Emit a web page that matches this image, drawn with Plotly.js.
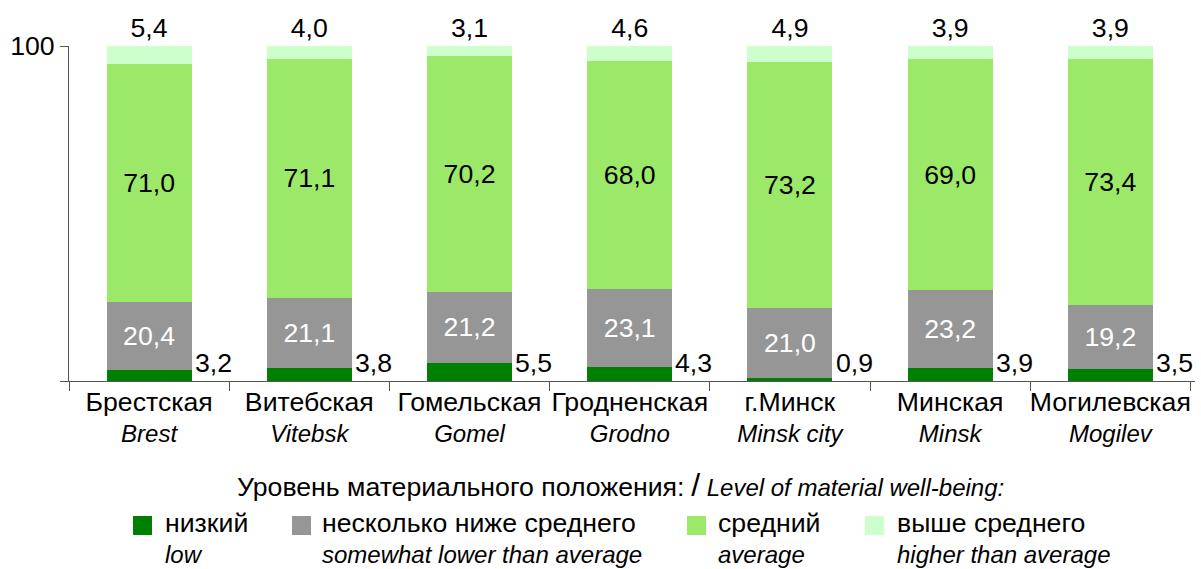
<!DOCTYPE html>
<html>
<head>
<meta charset="utf-8">
<script src="https://cdn.plot.ly/plotly-3.0.1.min.js"></script>
<style>html,body{margin:0;padding:0;background:#fff;}#chart{width:1201px;height:569px;}</style>
</head>
<body>
<div id="chart"></div>
<script>
const categories = ['Брестская','Витебская','Гомельская','Гродненская','г.Минск','Минская','Могилевская'];
const categoriesEn = ['Brest','Vitebsk','Gomel','Grodno','Minsk city','Minsk','Mogilev'];
const low = [3.2, 3.8, 5.5, 4.3, 0.9, 3.9, 3.5];
const belowAvg = [20.4, 21.1, 21.2, 23.1, 21.0, 23.2, 19.2];
const average = [71.0, 71.1, 70.2, 68.0, 73.2, 69.0, 73.4];
const aboveAvg = [5.4, 4.0, 3.1, 4.6, 4.9, 3.9, 3.9];
const yTickVals = [0, 100];
const yTickText = ['', '100'];
const legendTitleRu = 'Уровень материального положения:';
const legendTitleEn = 'Level of material well-being:';
const seriesRu = ['низкий', 'несколько ниже среднего', 'средний', 'выше среднего'];
const seriesEn = ['low', 'somewhat lower than average', 'average', 'higher than average'];

const colors = ['#008000', '#969696', '#9CE96A', '#CCFFCC'];
const FONT = 'Liberation Sans, Arial, sans-serif';
const BIG = 26.67, SMALL = 24;
const fmt = v => v.toFixed(1).replace('.', ',');

// layout geometry (pixels)
const W = 1201, H = 569, L = 69, R = 6, T = 46, B = 188;
const PW = W - L - R, PH = H - T - B;
const YMAX = 100.001;
const px = x => (x - L) / PW;
const py = y => (H - B - y) / PH;
const BARGAP = 0.47;
const halfBar = PW / categories.length * (1 - BARGAP) / 2;

const traces = [
  {type: 'bar', x: categories, y: low, name: seriesRu[0], marker: {color: colors[0]},
   textposition: 'none', hoverinfo: 'none', showlegend: false},
  {type: 'bar', x: categories, y: belowAvg, name: seriesRu[1], marker: {color: colors[1]},
   text: belowAvg.map(fmt), textposition: 'inside', insidetextanchor: 'middle',
   textfont: {family: FONT, size: BIG, color: '#ffffff'}, hoverinfo: 'none', showlegend: false},
  {type: 'bar', x: categories, y: average, name: seriesRu[2], marker: {color: colors[2]},
   text: average.map(fmt), textposition: 'inside', insidetextanchor: 'middle',
   textfont: {family: FONT, size: BIG, color: '#000000'}, hoverinfo: 'none', showlegend: false},
  {type: 'bar', x: categories, y: aboveAvg, name: seriesRu[3], marker: {color: colors[3]},
   text: aboveAvg.map(fmt), textposition: 'outside', cliponaxis: false, constraintext: 'none',
   textfont: {family: FONT, size: BIG, color: '#000000'}, hoverinfo: 'none', showlegend: false}
];

const annotations = [];
categories.forEach((c, i) => {
  annotations.push({
    x: c, y: 0, xref: 'x', yref: 'y', xanchor: 'left', yanchor: 'bottom',
    xshift: halfBar + 1, yshift: 1, showarrow: false, text: fmt(low[i]),
    font: {family: FONT, size: BIG, color: '#000000'}
  });
});
annotations.push({
  x: px(235), y: py(485), xref: 'paper', yref: 'paper', xanchor: 'left', yanchor: 'middle',
  showarrow: false,
  text: '<span style="font-size:' + BIG + 'px">' + legendTitleRu + '</span> <span style="font-size:32px">/</span> <i>' + legendTitleEn + '</i>',
  font: {family: FONT, size: SMALL, color: '#000000'}
});

const legendSquareX = [133, 292, 687, 865];
const legendTextX = [165, 322, 718, 897];
const shapes = [];
seriesRu.forEach((s, i) => {
  shapes.push({type: 'rect', xref: 'paper', yref: 'paper',
    x0: px(legendSquareX[i]), x1: px(legendSquareX[i] + 19), y0: py(535), y1: py(516),
    fillcolor: colors[i], line: {width: 0}});
  annotations.push({
    x: px(legendTextX[i] - 2), y: py(506), xref: 'paper', yref: 'paper', xanchor: 'left', yanchor: 'top',
    align: 'left', showarrow: false,
    text: '<span style="font-size:' + BIG + 'px">' + s + '</span><br><i>' + seriesEn[i] + '</i>',
    font: {family: FONT, size: SMALL, color: '#000000'}
  });
});

const layout = {
  width: W, height: H,
  margin: {l: L, r: R, t: T, b: B, pad: 0},
  paper_bgcolor: '#ffffff', plot_bgcolor: '#ffffff',
  barmode: 'stack', bargap: BARGAP,
  showlegend: false,
  font: {family: FONT, color: '#000000'},
  xaxis: {
    type: 'category', tickvals: categories, tickangle: 0, automargin: false,
    ticktext: categories.map((c, i) => '<span style="font-size:' + BIG + 'px">' + c + '</span><br><i>' + categoriesEn[i] + '</i>'),
    tickfont: {family: FONT, size: SMALL, color: '#000000'},
    showline: true, linecolor: '#555555', linewidth: 1,
    ticks: 'outside', tickson: 'boundaries', ticklen: 9, tickcolor: '#555555', tickwidth: 1,
    showgrid: false, zeroline: false, fixedrange: true
  },
  yaxis: {
    range: [0, YMAX], tickvals: yTickVals, ticktext: yTickText, automargin: false,
    tickfont: {family: FONT, size: BIG, color: '#000000'},
    showline: true, linecolor: '#555555', linewidth: 1,
    ticks: 'outside', ticklen: 8, tickcolor: '#555555', tickwidth: 1,
    showgrid: false, zeroline: false, fixedrange: true
  },
  annotations: annotations,
  shapes: shapes
};

Plotly.newPlot('chart', traces, layout, {staticPlot: true, displayModeBar: false});
</script>
</body>
</html>
